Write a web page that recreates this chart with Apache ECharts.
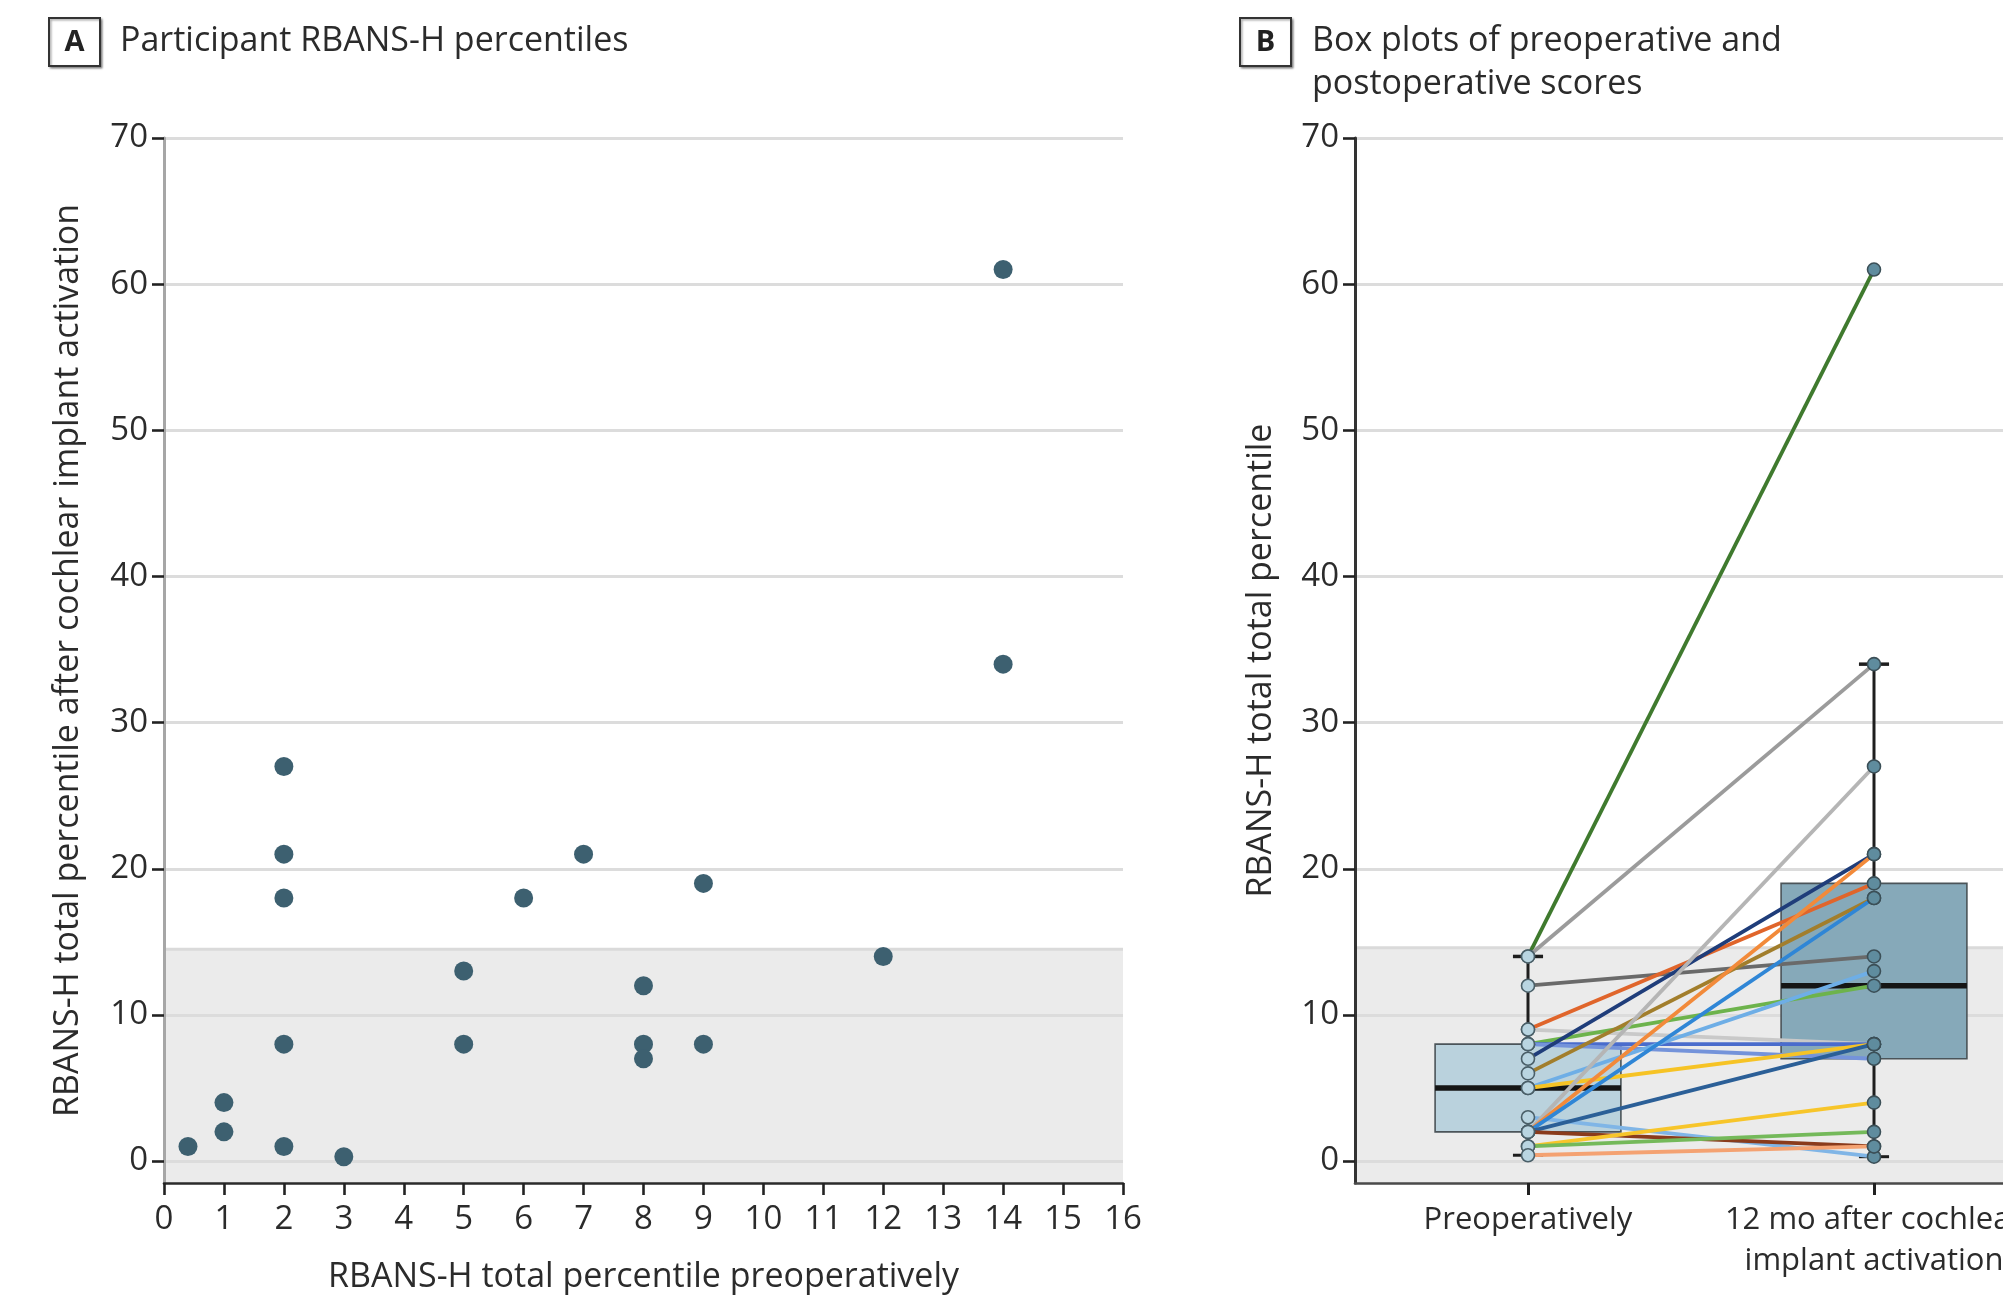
<!DOCTYPE html>
<html><head><meta charset="utf-8">
<script src="https://cdn.jsdelivr.net/npm/echarts@6/dist/echarts.min.js"></script>
<style>html,body{margin:0;padding:0;background:#fff;overflow:hidden}#c{width:2003px;height:1298px}</style>
</head><body><div id="c"></div>
<script>
// ---------- data ----------
// one entry per participant: preoperative and 12-month percentiles
const prePct  = [14, 14, 12, 9, 9, 8, 8, 8, 7, 6, 5, 5, 3, 2, 2, 2, 2, 2, 1, 1, 0.4];
const postPct = [61, 34, 14, 19, 8, 12, 8, 7, 21, 18, 13, 8, 0.3, 27, 21, 18, 8, 1, 4, 2, 1];
const lineColors = ['#3f7a2e', '#9b9b9b', '#6a6a6a', '#e0652b', '#c9c9c9', '#6db34c', '#4a6ccc',
  '#7493da', '#1f3d7a', '#a27e2c', '#6eaee6', '#f6c325', '#80b5e6', '#b5b5b5', '#f28a3a',
  '#2f86d6', '#2b5f97', '#8a3b1c', '#f7c52a', '#74b95a', '#f4a272'];
// box plot summaries: [min, Q1, median, Q3, max]
const boxPre  = [0.4, 2, 5, 8, 14];
const boxPost = [0.3, 7, 12, 19, 34];
const categoriesB = ['Preoperatively', '12 mo after cochlear\nimplant activation'];
const yTickValues = [0, 10, 20, 30, 40, 50, 60, 70];
const bandTopA = 14.5;
const bandTopB = 14.6;

// ---------- chart ----------
const FONT = "'Open Sans', 'Noto Sans', sans-serif";
const TXT = '#2b2b2b';
const chart = echarts.init(document.getElementById('c'), null, {renderer: 'canvas'});

function bandSeries(idx, top) {
  return {
    type: 'custom', xAxisIndex: idx, yAxisIndex: idx, z: -1, silent: true,
    data: [[0, top]],
    renderItem: function (params, api) {
      const cs = params.coordSys;
      const yTop = api.coord([api.value(0), api.value(1)])[1];
      return {type: 'group', children: [
        {type: 'rect', shape: {x: cs.x, y: yTop, width: cs.width, height: cs.y + cs.height - yTop},
          style: {fill: '#ebebeb'}},
        {type: 'line', shape: {x1: cs.x, y1: yTop, x2: cs.x + cs.width, y2: yTop},
          style: {stroke: '#dadada', lineWidth: 3}}
      ]};
    }
  };
}

const lineSeries = prePct.map(function (p, i) {
  return {
    type: 'line', xAxisIndex: 1, yAxisIndex: 1, z: 4, silent: true,
    data: [p, postPct[i]], showSymbol: false, symbol: 'none',
    lineStyle: {color: lineColors[i], width: 3.8}
  };
});

const option = {
  animation: false,
  backgroundColor: '#fff',
  textStyle: {fontFamily: FONT},
  grid: [
    {left: 164, top: 138, width: 959, height: 1045, containLabel: false, outerBoundsMode: 'none'},
    {left: 1355, top: 138, width: 692, height: 1045, containLabel: false, outerBoundsMode: 'none'}
  ],
  xAxis: [
    {gridIndex: 0, type: 'value', min: 0, max: 16, interval: 1,
      axisLine: {show: true, onZero: false, lineStyle: {color: '#2b2b2b', width: 2.6}},
      axisTick: {show: true, length: 12, lineStyle: {color: '#222', width: 2.6}},
      axisLabel: {fontSize: 33, color: TXT, margin: 20, fontFamily: FONT},
      splitLine: {show: false},
      name: 'RBANS-H total percentile preoperatively', nameLocation: 'middle', nameGap: 77,
      nameTextStyle: {fontSize: 34, color: TXT, fontFamily: FONT}},
    {gridIndex: 1, type: 'category', data: categoriesB, boundaryGap: true,
      axisLine: {show: true, onZero: false, lineStyle: {color: '#4a4a4a', width: 2.6}},
      axisTick: {show: true, alignWithLabel: true, length: 12, lineStyle: {color: '#222', width: 3}},
      axisLabel: {fontSize: 31, color: TXT, margin: 17, lineHeight: 41, fontFamily: FONT, interval: 0},
      splitLine: {show: false}}
  ],
  yAxis: [
    {gridIndex: 0, type: 'value', min: -1.5, max: 70,
      axisLine: {show: true, onZero: false, lineStyle: {color: '#a6a6a6', width: 3}},
      axisTick: {show: true, customValues: yTickValues, length: 12, lineStyle: {color: '#222', width: 2.6}},
      axisLabel: {customValues: yTickValues, fontSize: 33, color: TXT, margin: 16, fontFamily: FONT},
      splitLine: {show: true, lineStyle: {color: '#dcdcdc', width: 3}},
      name: 'RBANS-H total percentile after cochlear implant activation', nameLocation: 'middle', nameGap: 79,
      nameTextStyle: {fontSize: 34, color: TXT, fontFamily: FONT}},
    {gridIndex: 1, type: 'value', min: -1.5, max: 70,
      axisLine: {show: true, onZero: false, lineStyle: {color: '#333', width: 3}},
      axisTick: {show: true, customValues: yTickValues, length: 12, lineStyle: {color: '#222', width: 2.6}},
      axisLabel: {customValues: yTickValues, fontSize: 33, color: TXT, margin: 16, fontFamily: FONT},
      splitLine: {show: true, lineStyle: {color: '#dcdcdc', width: 3}},
      name: 'RBANS-H total total percentile', nameLocation: 'middle', nameGap: 77,
      nameTextStyle: {fontSize: 34, color: TXT, fontFamily: FONT}}
  ],
  graphic: [
    {type: 'rect', shape: {x: 49, y: 18, width: 51, height: 48},
      style: {fill: '#fff', stroke: '#333', lineWidth: 2, shadowBlur: 2, shadowColor: 'rgba(0,0,0,0.35)', shadowOffsetX: 1.5, shadowOffsetY: 1.5}},
    {type: 'text', x: 74.5, y: 43, style: {text: 'A', font: 'bold 29px ' + FONT, fill: '#222', align: 'center', verticalAlign: 'middle'}},
    {type: 'text', x: 120, y: 41, style: {text: 'Participant RBANS-H percentiles', font: '34px ' + FONT, fill: TXT, verticalAlign: 'middle'}},
    {type: 'rect', shape: {x: 1240, y: 18, width: 51, height: 48},
      style: {fill: '#fff', stroke: '#333', lineWidth: 2, shadowBlur: 2, shadowColor: 'rgba(0,0,0,0.35)', shadowOffsetX: 1.5, shadowOffsetY: 1.5}},
    {type: 'text', x: 1265.5, y: 43, style: {text: 'B', font: 'bold 29px ' + FONT, fill: '#222', align: 'center', verticalAlign: 'middle'}},
    {type: 'text', x: 1312, y: 20, style: {text: 'Box plots of preoperative and\npostoperative scores', font: '34px ' + FONT, lineHeight: 43, fill: TXT, verticalAlign: 'top'}}
  ],
  series: [
    bandSeries(0, bandTopA),
    bandSeries(1, bandTopB),
    {type: 'scatter', xAxisIndex: 0, yAxisIndex: 0, z: 5, silent: true,
      data: prePct.map(function (p, i) { return [p, postPct[i]]; }),
      symbolSize: 19, itemStyle: {color: '#3d6070', opacity: 1}},
    {type: 'custom', xAxisIndex: 1, yAxisIndex: 1, z: 2, silent: true,
      data: [[0].concat(boxPre), [1].concat(boxPost)],
      renderItem: function (params, api) {
        const c = api.value(0);
        const band = api.size([1, 0])[0];
        const boxW = band * 0.537, capW = band * 0.087;
        const x = api.coord([c, 0])[0];
        const yMin = api.coord([c, api.value(1)])[1];
        const yQ1 = api.coord([c, api.value(2)])[1];
        const yMed = api.coord([c, api.value(3)])[1];
        const yQ3 = api.coord([c, api.value(4)])[1];
        const yMax = api.coord([c, api.value(5)])[1];
        const fill = c === 0 ? '#bad2dd' : '#86a9b9';
        const k = {stroke: '#1e1e1e', lineWidth: 3};
        return {type: 'group', children: [
          {type: 'line', shape: {x1: x, y1: yQ3, x2: x, y2: yMax}, style: k},
          {type: 'line', shape: {x1: x, y1: yQ1, x2: x, y2: yMin}, style: k},
          {type: 'line', shape: {x1: x - capW / 2, y1: yMax, x2: x + capW / 2, y2: yMax}, style: {stroke: '#1e1e1e', lineWidth: 3.5}},
          {type: 'line', shape: {x1: x - capW / 2, y1: yMin, x2: x + capW / 2, y2: yMin}, style: {stroke: '#1e1e1e', lineWidth: 3}},
          {type: 'rect', shape: {x: x - boxW / 2, y: yQ3, width: boxW, height: yQ1 - yQ3},
            style: {fill: fill, stroke: '#4b5459', lineWidth: 1.6}},
          {type: 'line', shape: {x1: x - boxW / 2, y1: yMed, x2: x + boxW / 2, y2: yMed}, style: {stroke: '#151515', lineWidth: 5.5}}
        ]};
      }}
  ].concat(lineSeries).concat([
    {type: 'scatter', xAxisIndex: 1, yAxisIndex: 1, z: 6, silent: true,
      data: prePct.map(function (p) { return [0, p]; }),
      symbolSize: 13, itemStyle: {color: '#b9d5e1', borderColor: '#4a5f68', borderWidth: 1.6, opacity: 1}},
    {type: 'scatter', xAxisIndex: 1, yAxisIndex: 1, z: 6, silent: true,
      data: postPct.map(function (p) { return [1, p]; }),
      symbolSize: 13, itemStyle: {color: '#5f8c9e', borderColor: '#3b4f57', borderWidth: 1.6, opacity: 1}}
  ])
};
chart.setOption(option);
</script>
</body></html>
